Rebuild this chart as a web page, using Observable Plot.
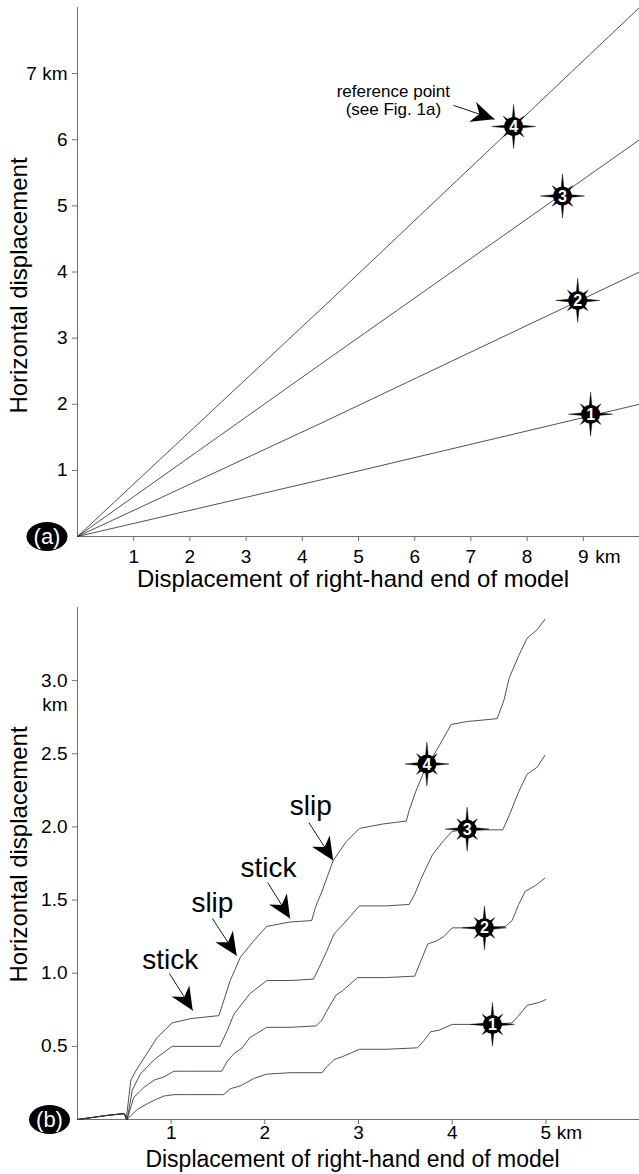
<!DOCTYPE html>
<html><head><meta charset="utf-8">
<script src="https://cdn.jsdelivr.net/npm/d3@7"></script>
<script src="https://cdn.jsdelivr.net/npm/@observablehq/plot@0.6"></script>
<style>
html,body{margin:0;padding:0;background:#fff;}
#chart{width:639px;}
#chart svg{display:block;}
</style></head><body><div id="chart"></div>
<script>
// ---------- Panel (a) data ----------
const xTicksA = [1,2,3,4,5,6,7,8,9];
const xTickLabelsA = ["1","2","3","4","5","6","7","8","9"];
const yTicksA = [1,2,3,4,5,6,7];
const yTickLabelsA = ["1","2","3","4","5","6","7 km"];
const lineA1 = [[0,0],[4.3,0.85],[10,2.0]];
const lineA2 = [[0,0],[4.3,1.70],[10,4.0]];
const lineA3 = [[0,0],[4.3,2.59],[10,6.0]];
const lineA4 = [[0,0],[4.56,3.62],[10,8.0]];
const starsA = [
  {label:"1", x:9.13, y:1.85},
  {label:"2", x:8.90, y:3.57},
  {label:"3", x:8.63, y:5.15},
  {label:"4", x:7.76, y:6.20}
];
const notesA = [{text:"reference point\n(see Fig. 1a)", x:5.62, y:6.6}];
const arrowsA = [{x1:6.69, y1:6.52, x2:7.42, y2:6.31}];

// ---------- Panel (b) data ----------
const xTicksB = [1,2,3,4,5];
const xTickLabelsB = ["1","2","3","4","5"];
const yTicksB = [0.5,1.0,1.5,2.0,2.5,3.0];
const yTickLabelsB = ["0.5","1.0","1.5","2.0","2.5","3.0"];
const curveB1 = [[0,0],[0.34,0.03],[0.50,0.04],[0.53,0],[0.64,0.07],[0.78,0.12],[0.92,0.16],[1.03,0.17],[1.21,0.17],[1.56,0.17],[1.63,0.21],[1.74,0.23],[1.88,0.28],[2.02,0.31],[2.27,0.32],[2.61,0.32],[2.66,0.36],[2.74,0.41],[2.83,0.43],[3.01,0.48],[3.29,0.48],[3.63,0.49],[3.70,0.54],[3.77,0.60],[3.86,0.61],[4.00,0.65],[4.42,0.65],[4.64,0.66],[4.71,0.71],[4.80,0.78],[4.93,0.80],[5.00,0.82]];
const curveB2 = [[0,0],[0.34,0.03],[0.50,0.04],[0.53,0],[0.60,0.15],[0.71,0.22],[0.82,0.27],[0.92,0.29],[1.03,0.33],[1.21,0.33],[1.54,0.33],[1.60,0.40],[1.67,0.45],[1.76,0.49],[1.84,0.56],[2.02,0.63],[2.27,0.63],[2.55,0.64],[2.61,0.68],[2.66,0.74],[2.76,0.85],[2.83,0.88],[2.99,0.97],[3.29,0.97],[3.60,0.98],[3.65,1.06],[3.74,1.20],[3.83,1.22],[3.91,1.25],[4.00,1.31],[4.33,1.31],[4.57,1.32],[4.64,1.36],[4.71,1.47],[4.78,1.56],[4.89,1.60],[4.99,1.65]];
const curveB3 = [[0,0],[0.34,0.03],[0.50,0.04],[0.53,0],[0.585,0.20],[0.67,0.31],[0.82,0.41],[1.01,0.50],[1.21,0.50],[1.52,0.50],[1.60,0.61],[1.67,0.72],[1.84,0.86],[2.02,0.95],[2.27,0.95],[2.52,0.96],[2.58,1.04],[2.66,1.15],[2.74,1.27],[2.83,1.33],[3.01,1.46],[3.29,1.46],[3.54,1.47],[3.60,1.54],[3.67,1.65],[3.79,1.81],[3.90,1.90],[4.00,1.97],[4.15,1.98],[4.36,1.98],[4.54,1.98],[4.61,2.08],[4.71,2.24],[4.80,2.36],[4.91,2.41],[4.99,2.49]];
const curveB4 = [[0,0],[0.34,0.03],[0.50,0.04],[0.52,0],[0.57,0.27],[0.62,0.33],[0.71,0.42],[0.85,0.56],[1.01,0.66],[1.21,0.69],[1.51,0.71],[1.56,0.81],[1.63,0.95],[1.74,1.11],[1.88,1.22],[2.02,1.32],[2.27,1.35],[2.50,1.36],[2.54,1.45],[2.61,1.56],[2.73,1.77],[2.87,1.90],[3.01,1.99],[3.26,2.02],[3.51,2.04],[3.54,2.11],[3.61,2.24],[3.72,2.41],[3.83,2.52],[3.99,2.70],[4.15,2.72],[4.48,2.74],[4.55,2.86],[4.61,3.02],[4.71,3.17],[4.80,3.29],[4.91,3.35],[4.99,3.42]];
const starsB = [
  {label:"1", x:4.43, y:0.65},
  {label:"2", x:4.345, y:1.31},
  {label:"3", x:4.16, y:1.985},
  {label:"4", x:3.73, y:2.43}
];
const notesB = [
  {text:"stick", x:0.99, y:1.09},
  {text:"slip",  x:1.44, y:1.48},
  {text:"stick", x:2.04, y:1.716},
  {text:"slip",  x:2.49, y:2.14}
];
const arrowsB = [
  {x1:0.98, y1:1.00, x2:1.23, y2:0.745},
  {x1:1.44, y1:1.374, x2:1.70, y2:1.12},
  {x1:2.03, y1:1.62, x2:2.27, y2:1.374},
  {x1:2.47, y1:2.03, x2:2.73, y2:1.77}
];

// ---------- shared styling ----------
const FONT = "'Liberation Sans', Arial, Helvetica, sans-serif";
const AXIS_GRAY = "#707070";
const LINE_COLOR = "#333333";

function arrowHead(color, context) {
  const m = d3.create("svg:marker")
    .attr("viewBox", "-26 -13 28 26")
    .attr("markerWidth", 28).attr("markerHeight", 26)
    .attr("refX", 0).attr("refY", 0)
    .attr("markerUnits", "userSpaceOnUse")
    .attr("orient", "auto")
    .attr("overflow", "visible");
  m.append("path").attr("d", "M0,0L-23,-10.5L-16,0L-23,10.5Z").attr("fill", "black").attr("stroke", "none");
  return m.node();
}

const ellipseSymbol = {
  draw(ctx) {
    const rx = 20.5, ry = 14.5, k = 0.5523;
    ctx.moveTo(rx, 0);
    ctx.bezierCurveTo(rx, ry*k, rx*k, ry, 0, ry);
    ctx.bezierCurveTo(-rx*k, ry, -rx, ry*k, -rx, 0);
    ctx.bezierCurveTo(-rx, -ry*k, -rx*k, -ry, 0, -ry);
    ctx.bezierCurveTo(rx*k, -ry, rx, -ry*k, rx, 0);
    ctx.closePath();
  }
};

function starMarks(stars, fontSize) {
  const longRays = stars.flatMap(s => [0,90,180,270].map(a => ({x:s.x, y:s.y, a})));
  const shortRays = stars.flatMap(s => [45,135,225,315].map(a => ({x:s.x, y:s.y, a})));
  return [
    Plot.vector(longRays, {x:"x", y:"y", rotate:"a", length:22, shape:"spike", r:2.2, anchor:"start", fill:"black", stroke:"black", strokeWidth:0.4}),
    Plot.vector(shortRays, {x:"x", y:"y", rotate:"a", length:14.5, shape:"spike", r:2.8, anchor:"start", fill:"black", stroke:"black", strokeWidth:0.4}),
    Plot.dot(stars, {x:"x", y:"y", r:9.5, fill:"black", stroke:"none"}),
    Plot.text(stars, {x:"x", y:"y", text:"label", fill:"white", fontWeight:"bold", fontSize, dy:0.5})
  ];
}

function panelLetter(letter, dx) {
  return [
    Plot.dot([{x:0, y:0}], {x:"x", y:"y", symbol: ellipseSymbol, fill:"black", stroke:"none", dx, dy:0}),
    Plot.text([{x:0, y:0, t:letter}], {x:"x", y:"y", text:"t", fill:"white", fontSize:22, textAnchor:"middle", lineAnchor:"middle", dx, dy:0})
  ];
}

const chart = document.getElementById("chart");

// ---------- Panel (a) ----------
const plotA = Plot.plot({
  width: 639, height: 590,
  marginLeft: 77, marginRight: 0, marginTop: 7, marginBottom: 54,
  x: {domain: [0, 10]},
  y: {domain: [0, 8]},
  style: {fontFamily: FONT, fontSize: "19px", color: "black", background: "white", overflow: "visible"},
  marks: [
    Plot.ruleY([0], {stroke: AXIS_GRAY, strokeWidth: 1}),
    Plot.ruleX([0], {stroke: AXIS_GRAY, strokeWidth: 1}),
    Plot.axisX({ticks: xTicksA, tickFormat: d => xTickLabelsA[xTicksA.indexOf(d)], tickSize: 5, tickPadding: 8, label: null, stroke: AXIS_GRAY}),
    Plot.axisY({ticks: yTicksA, tickFormat: d => yTickLabelsA[yTicksA.indexOf(d)], tickSize: 5, tickPadding: 5, label: null, stroke: AXIS_GRAY}),
    Plot.text(["km"], {x: 9, frameAnchor: "bottom", textAnchor: "start", lineAnchor: "top", dx: 12, dy: 13}),
    ...[lineA1, lineA2, lineA3, lineA4].map(s => Plot.line(s, {x: d => d[0], y: d => d[1], stroke: LINE_COLOR, strokeWidth: 0.85})),
    Plot.link(arrowsA, {x1:"x1", y1:"y1", x2:"x2", y2:"y2", stroke:"black", strokeWidth:0.9, markerEnd: arrowHead}),
    Plot.text(notesA, {x:"x", y:"y", text:"text", fontSize:17, lineHeight:1.1}),
    ...starMarks(starsA, 16),
    ...panelLetter("(a)", -30.5),
    Plot.text(["Horizontal displacement"], {frameAnchor: "left", rotate: -90, textAnchor: "middle", lineAnchor: "middle", dx: -58, dy: 13.5, fontSize: 24}),
    Plot.text(["Displacement of right-hand end of model"], {frameAnchor: "bottom", textAnchor: "middle", lineAnchor: "middle", dx: -5.5, dy: 42.5, fontSize: 24})
  ]
});
chart.appendChild(plotA);

// ---------- Panel (b) ----------
const plotB = Plot.plot({
  width: 639, height: 584,
  marginLeft: 77, marginRight: 0, marginTop: 17, marginBottom: 55,
  x: {domain: [0, 6]},
  y: {domain: [0, 3.5]},
  style: {fontFamily: FONT, fontSize: "19px", color: "black", background: "white", overflow: "visible"},
  marks: [
    Plot.ruleY([0], {stroke: AXIS_GRAY, strokeWidth: 1}),
    Plot.ruleX([0], {stroke: AXIS_GRAY, strokeWidth: 1}),
    Plot.axisX({ticks: xTicksB, tickFormat: d => xTickLabelsB[xTicksB.indexOf(d)], tickSize: 5, tickPadding: 1, label: null, stroke: AXIS_GRAY}),
    Plot.axisY({ticks: yTicksB, tickFormat: d => yTickLabelsB[yTicksB.indexOf(d)], tickSize: 5, tickPadding: 5, label: null, stroke: AXIS_GRAY}),
    Plot.text(["km"], {x: 5, frameAnchor: "bottom", textAnchor: "start", lineAnchor: "top", dx: 11, dy: 6}),
    Plot.text(["km"], {y: 3.0, frameAnchor: "left", textAnchor: "end", lineAnchor: "middle", dx: -10, dy: 24}),
    ...[curveB1, curveB2, curveB3, curveB4].map(s => Plot.line(s, {x: d => d[0], y: d => d[1], stroke: LINE_COLOR, strokeWidth: 0.85})),
    Plot.link(arrowsB, {x1:"x1", y1:"y1", x2:"x2", y2:"y2", stroke:"black", strokeWidth:0.9, markerEnd: arrowHead}),
    Plot.text(notesB, {x:"x", y:"y", text:"text", fontSize:28}),
    ...starMarks(starsB, 16),
    ...panelLetter("(b)", -28),
    Plot.text(["Horizontal displacement"], {frameAnchor: "left", rotate: -90, textAnchor: "middle", lineAnchor: "middle", dx: -58, dy: -9, fontSize: 24}),
    Plot.text(["Displacement of right-hand end of model"], {frameAnchor: "bottom", textAnchor: "middle", lineAnchor: "middle", dx: -6, dy: 40.5, fontSize: 23})
  ]
});
chart.appendChild(plotB);
</script>
</body></html>
